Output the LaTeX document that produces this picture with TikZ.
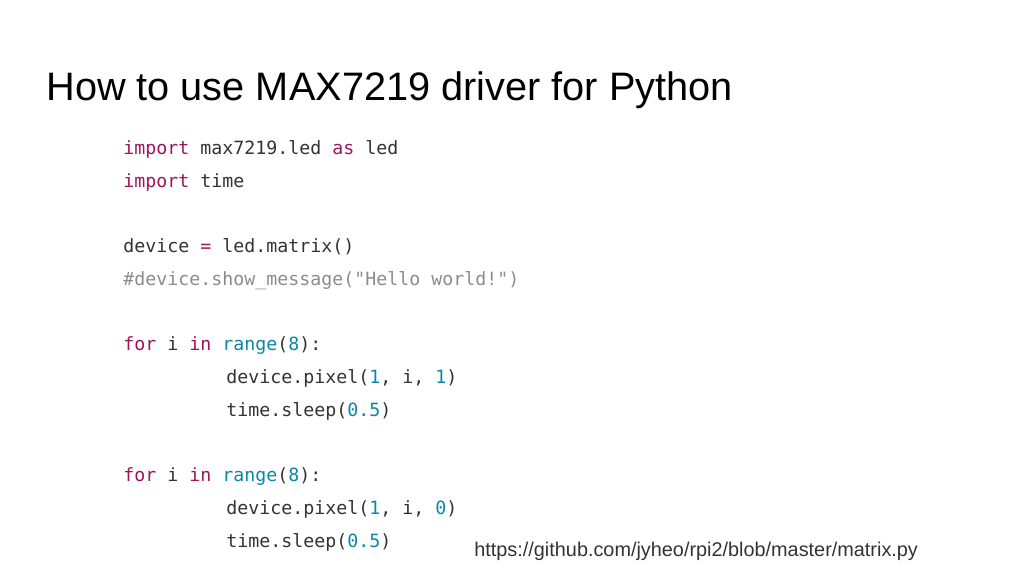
\documentclass[tikz,border=0pt]{standalone}
\usepackage{fontspec}
\setmainfont{Liberation Sans}
\setmonofont{DejaVu Sans Mono}
\definecolor{kw}{HTML}{A0155A}
\definecolor{num}{HTML}{0B87A8}
\definecolor{cmt}{HTML}{8C8C8C}
\definecolor{txt}{HTML}{333333}
\newcommand{\kw}[1]{\textcolor{kw}{#1}}
\newcommand{\nm}[1]{\textcolor{num}{#1}}
\tikzset{
  codeline/.style={anchor=base west, inner sep=0pt, font=\ttfamily\fontsize{10.4}{12}\selectfont, text=txt},
}
\begin{document}
\begin{tikzpicture}[x=0.02cm,y=-0.02cm]
    \useasboundingbox (0,0) rectangle (1024,576);
    % Title
    \node[anchor=base west, inner sep=0pt, font=\fontsize{22.6}{26}\selectfont, text=black] (title) at (46,100) {How to use MAX7219 driver for Python};

    % Code
    \node[codeline] (l1) at (123,154) {\kw{import} max7219.led \kw{as} led};
    \node[codeline] (l2) at (123,187) {\kw{import} time};
    \node[codeline] (l3) at (123,252) {device \kw{=} led.matrix()};
    \node[codeline, text=cmt] (l4) at (123,285) {\#device.show\_message("Hello world!")};
    \node[codeline] (l5) at (123,350) {\kw{for} i \kw{in} \nm{range}(\nm{8}):};
    \node[codeline] (l6) at (226,383) {device.pixel(\nm{1}, i, \nm{1})};
    \node[codeline] (l7) at (226,416) {time.sleep(\nm{0.5})};
    \node[codeline] (l8) at (123,481) {\kw{for} i \kw{in} \nm{range}(\nm{8}):};
    \node[codeline] (l9) at (226,514) {device.pixel(\nm{1}, i, \nm{0})};
    \node[codeline] (l10) at (226,547) {time.sleep(\nm{0.5})};

    % Source
    \node[anchor=base west, inner sep=0pt, font=\fontsize{11.3}{13}\selectfont, text=txt] (src) at (474,556) {https://github.com/jyheo/rpi2/blob/master/matrix.py};
\end{tikzpicture}
\end{document}
